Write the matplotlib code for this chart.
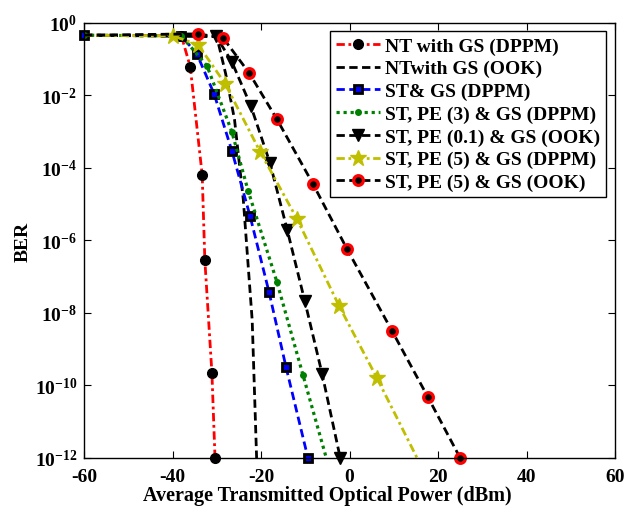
import math
import matplotlib
matplotlib.use('Agg')
import matplotlib.pyplot as plt
from matplotlib.ticker import FixedLocator, FuncFormatter

plt.rcParams['font.family'] = ['Liberation Serif', 'DejaVu Serif']
plt.rcParams['font.weight'] = 'bold'
plt.rcParams['mathtext.fontset'] = 'custom'
plt.rcParams['mathtext.rm'] = 'Liberation Serif:bold'
plt.rcParams['mathtext.bf'] = 'Liberation Serif:bold'
plt.rcParams['axes.unicode_minus'] = False

# Power (dBm) and BER values
p_nt_dppm = [-60, -38, -36, -33.3, -32.7, -31.1, -30.4]
ber_nt_dppm = [0.46, 0.44, 6.2e-2, 6.5e-5, 2.9e-7, 2.2e-10, 1e-12]

p_nt_ook = [-60, -30, -28, -26, -24, -22, -21]
ber_nt_ook = [0.46, 0.42, 4.0e-2, 2.2e-3, 1.3e-5, 6.3e-9, 1e-12]

p_st_dppm = [-60, -38, -34.5, -30.6, -26.6, -22.5, -18.2, -14.35, -9.4]
ber_st_dppm = [0.46, 0.44, 0.14, 1.1e-2, 3.0e-4, 4.8e-6, 3.8e-8, 3.2e-10, 1e-12]

p_pe3_dppm = [-60, -38, -32.2, -26.6, -22.9, -16.4, -10.5, -4.5]
ber_pe3_dppm = [0.46, 0.44, 6.5e-2, 1e-3, 2.3e-5, 7.1e-8, 1.9e-10, 4.7e-13]

p_pe01_ook = [-60, -30.2, -26.6, -22.3, -18, -14.1, -10.1, -6.2, -2.1]
ber_pe01_ook = [0.46, 0.44, 8.5e-2, 5.1e-3, 1.4e-4, 2.0e-6, 2.1e-8, 2.1e-10, 1e-12]

p_pe5_dppm = [-60, -39.9, -34.2, -28.1, -20.2, -11.9, -2.4, 6.2, 16.5]
ber_pe5_dppm = [0.46, 0.44, 0.25, 2.1e-2, 2.8e-4, 4.0e-6, 1.6e-8, 1.6e-10, 5e-13]

p_pe5_ook = [-60, -34.2, -28.6, -22.7, -16.4, -8.25, -0.6, 9.6, 17.7, 25]
ber_pe5_ook = [0.46, 0.5, 0.39, 4.2e-2, 2.2e-3, 3.6e-5, 5.9e-7, 3.2e-9, 4.8e-11, 1e-12]

labels = ['NT with GS (DPPM)', 'NTwith GS (OOK)', 'ST& GS (DPPM)',
          'ST, PE (3) & GS (DPPM)', 'ST, PE (0.1) & GS (OOK)',
          'ST, PE (5) & GS (DPPM)', 'ST, PE (5) & GS (OOK)']

yellow = (0.75, 0.75, 0)
green = (0, 0.5, 0)

dash = (0, (3, 1.6))
dashdot = (0, (3, 1.3, 1, 1.3))
dot = (0, (1, 1.2))

fig = plt.figure(figsize=(6.27, 5.10), dpi=100)
ax = fig.add_axes([0.134, 0.1, 0.847, 0.853])

lw = 2
skip = slice(1, None)
ax.plot(p_nt_dppm, ber_nt_dppm, ls=dashdot, color='r', lw=lw, marker='o', ms=7,
        mfc='k', mec='k', markevery=skip, clip_on=False, label=labels[0])
ax.plot(p_nt_ook, ber_nt_ook, ls=dash, color='k', lw=lw, clip_on=False, label=labels[1])
ax.plot(p_st_dppm, ber_st_dppm, ls=dash, color='b', lw=lw, marker='s', ms=6,
        mfc='b', mec='k', mew=2, clip_on=False, label=labels[2])
ax.plot(p_pe3_dppm, ber_pe3_dppm, ls=dot, color=green, lw=lw + 0.3, marker='.', ms=8,
        label=labels[3])
ax.plot(p_pe01_ook, ber_pe01_ook, ls=dash, color='k', lw=lw, marker='v', ms=9,
        markevery=skip, clip_on=False, label=labels[4])
ax.plot(p_pe5_dppm, ber_pe5_dppm, ls=dashdot, color=yellow, lw=lw, marker='*', ms=12,
        markevery=skip, label=labels[5])
ax.plot(p_pe5_ook, ber_pe5_ook, ls=dash, color='k', lw=lw, marker='o', ms=7,
        mfc='k', mec='r', mew=2.3, markevery=skip, clip_on=False, label=labels[6])

ax.set_yscale('log')
ax.set_xlim(-60, 60)
ax.set_ylim(1e-12, 1)
ax.set_xticks(range(-60, 61, 20))
ax.yaxis.set_major_locator(FixedLocator([10.0 ** k for k in range(-12, 1, 2)]))
ax.yaxis.set_minor_locator(FixedLocator([]))
ax.yaxis.set_major_formatter(FuncFormatter(
    lambda v, pos: r'$\mathbf{10^{%d}}$' % round(math.log10(v))))
ax.tick_params(direction='in', top=True, right=True, labelsize=14, length=5,
               width=0.8)
ax.tick_params(axis='x', pad=7)
ax.tick_params(axis='y', pad=5)
for s in ax.spines.values():
    s.set_linewidth(1.0)

ax.set_xlabel('Average Transmitted Optical Power (dBm)', fontsize=14.5,
              fontweight='bold', labelpad=0)
ax.xaxis.set_label_coords(0.458, -0.063)
ax.set_ylabel('BER', fontsize=14, fontweight='bold', labelpad=2)

leg = ax.legend(loc='upper right', bbox_to_anchor=(0.983, 0.981), borderaxespad=0,
                fontsize=14, fancybox=False, framealpha=1, edgecolor='k',
                handlelength=2.3, handletextpad=0.25, labelspacing=0.26,
                borderpad=0.3)
leg.get_frame().set_linewidth(1.0)
for t in leg.get_texts():
    t.set_fontweight('bold')

fig.savefig('out.png', dpi=100)
